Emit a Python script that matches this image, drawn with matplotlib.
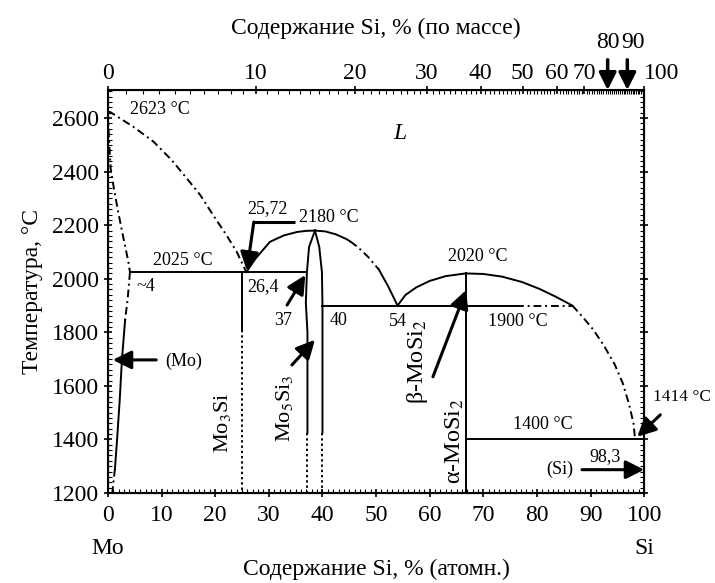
import numpy as np
import matplotlib.pyplot as plt
from matplotlib.ticker import MultipleLocator

plt.rcParams['font.family'] = ['Liberation Serif', 'DejaVu Serif']
plt.rcParams['mathtext.fontset'] = 'stix'

# --- данные (ат.% Si, °C) ---
liq_mo_x = [0, 0.4, 4.7, 8.5, 11.9, 14.7, 17.2, 19.6, 22.1, 24.0, 25.8]
liq_mo_t = [2623, 2623, 2568, 2512, 2443, 2375, 2313, 2238, 2163, 2101, 2025]

sol_mo_x = [0, 0.1, 0.25, 0.5, 1.0, 1.9, 2.9, 3.8, 4.1]
sol_mo_t = [2623, 2560, 2499, 2412, 2350, 2250, 2151, 2064, 2025]

solv_top_x = [4.1, 3.7, 3.2]
solv_top_t = [2025, 1930, 1846]
solv_mid_x = [3.2, 2.6, 2.2, 1.7, 1.3]
solv_mid_t = [1846, 1697, 1550, 1400, 1290]
solv_bot_x = [1.3, 0.8]
solv_bot_t = [1290, 1200]

liq_53_x = [25.8, 27.5, 30.2, 32.8, 35.3, 37, 38.6]
liq_53_t = [2025, 2075, 2138, 2162, 2175, 2179, 2180]

mo5_left_x = [38.6, 37.5, 37.1, 36.9, 37.2, 37.2]
mo5_left_t = [2180, 2119, 2025, 1910, 1800, 1425]
mo5_right_x = [38.6, 39.4, 39.9, 40.0, 40.0]
mo5_right_t = [2180, 2119, 2025, 1900, 1425]

liq_54a_x = [38.6, 40.5, 42.5, 44.5, 45.2]
liq_54a_t = [2180, 2177, 2166, 2148, 2139]
liq_54b_x = [45.2, 46.5, 48.5, 50.5]
liq_54b_t = [2139, 2120, 2082, 2035]
liq_54c_x = [50.5, 52.3, 54]
liq_54c_t = [2035, 1970, 1900]

liq_si2_x = [54, 55.5, 57.5, 60, 63, 66.7, 70, 73.5, 77.2, 80.5, 83.5, 86.6]
liq_si2_t = [1900, 1940, 1968, 1992, 2010, 2020, 2018, 2008, 1988, 1962, 1933, 1900]
liq_si_x = [86.6, 88.5, 90.5, 92.5, 94.5, 96, 97.2, 98, 98.3]
liq_si_t = [1900, 1858, 1810, 1750, 1680, 1610, 1530, 1460, 1400]

wt_ticks = [0, 10, 20, 30, 40, 50, 60, 70, 100]
wt_arrows = [80, 90]
at_ticks = [0, 10, 20, 30, 40, 50, 60, 70, 80, 90, 100]
t_ticks = [1200, 1400, 1600, 1800, 2000, 2200, 2400, 2600]

M_SI, M_MO = 28.086, 95.95


def wt2at(w):
    w = np.asarray(w, dtype=float)
    a = w / M_SI
    b = (100 - w) / M_MO
    return 100 * a / (a + b)


fig = plt.figure(figsize=(7.15, 5.83), dpi=100)
ax = fig.add_axes([0.151, 0.1544, 0.750, 0.6912])
ax.set_xlim(0, 100)
ax.set_ylim(1200, 2705)

k = 'black'
dash = (0, (4, 2, 1, 2))
dot = (0, (1.2, 1.5))
lw = 1.4

# пунктирные линии
for xs, ts in [(liq_mo_x, liq_mo_t), (sol_mo_x, sol_mo_t), (solv_top_x, solv_top_t),
               (solv_bot_x, solv_bot_t), (liq_54b_x, liq_54b_t), (liq_si_x, liq_si_t)]:
    ax.plot(xs, ts, color=k, lw=lw, ls=dash)

# сплошные линии
for xs, ts in [(solv_mid_x, solv_mid_t), (liq_53_x, liq_53_t), (mo5_left_x, mo5_left_t),
               (mo5_right_x, mo5_right_t), (liq_54a_x, liq_54a_t), (liq_54c_x, liq_54c_t),
               (liq_si2_x, liq_si2_t)]:
    ax.plot(xs, ts, color=k, lw=lw)

# горизонтали и вертикали
ax.plot([4.1, 37], [2025, 2025], color=k, lw=lw)
ax.plot([40, 76], [1900, 1900], color=k, lw=lw)
ax.plot([76, 86.6], [1900, 1900], color=k, lw=lw, ls=dash)
ax.plot([66.7, 100], [1400, 1400], color=k, lw=lw)
ax.plot([66.7, 66.7], [2020, 1200], color=k, lw=lw)
ax.plot([25, 25], [2025, 1810], color=k, lw=lw)
ax.plot([25, 25], [1810, 1200], color=k, lw=lw, ls=dot)
ax.plot([37.2, 37.2], [1425, 1200], color=k, lw=lw, ls=dot)
ax.plot([40, 40], [1425, 1200], color=k, lw=lw, ls=dot)

# стрелки
ap = dict(arrowstyle='-|>', color=k, lw=2.2, mutation_scale=28, shrinkA=0, shrinkB=0)
ax.plot([34.9, 27.2], [2212, 2212], color=k, lw=2.2, solid_capstyle='butt')
ax.annotate('', xy=(25.9, 2030), xytext=(27.2, 2212), arrowprops=ap)
ax.annotate('', xy=(36.8, 2014), xytext=(33.4, 1902), arrowprops=ap)
ax.annotate('', xy=(38.6, 1772), xytext=(34.3, 1678), arrowprops=ap)
ax.annotate('', xy=(66.8, 1958), xytext=(60.6, 1634), arrowprops=ap)
ax.annotate('', xy=(0.9, 1697), xytext=(9.0, 1697), arrowprops=ap)
ax.annotate('', xy=(100, 1287), xytext=(88.4, 1287), arrowprops=ap)
ax.annotate('', xy=(98.7, 1410), xytext=(103, 1492), arrowprops=ap,
            annotation_clip=False)

# подписи
fs = 13
ax.text(4.1, 2632, '2623 °C', fontsize=fs, va='center')
ax.text(54.5, 2544, 'L', fontsize=17, style='italic', ha='center', va='center')
ax.text(29.8, 2264, '25,72', fontsize=fs, ha='center', va='center')
ax.text(35.6, 2230, '2180 °C', fontsize=fs, va='center')
ax.text(14, 2070, '2025 °C', fontsize=fs, ha='center', va='center')
ax.text(5.4, 1970, '~4', fontsize=fs, va='center')
ax.text(25.9, 1970, '26,4', fontsize=fs, va='center')
ax.text(32.7, 1846, '37', fontsize=fs, ha='center', va='center')
ax.text(41.4, 1846, '40', fontsize=fs, va='center')
ax.text(54, 1839, '54', fontsize=fs, ha='center', va='center')
ax.text(69, 2082, '2020 °C', fontsize=fs, ha='center', va='center')
ax.text(76.5, 1839, '1900 °C', fontsize=fs, ha='center', va='center')
ax.text(10.6, 1693, '(Mo)', fontsize=fs, va='center')
ax.text(81, 1454, '1400 °C', fontsize=fs, ha='center', va='center')
ax.text(101.6, 1559, '1414 °C', fontsize=12.5, va='center', clip_on=False)
ax.text(92.7, 1335, '98,3', fontsize=fs, ha='center', va='center')
ax.text(84.3, 1287, '(Si)', fontsize=fs, ha='center', va='center')

ax.text(21.3, 1462, r'Mo$_3$Si', fontsize=16, rotation=90, ha='center', va='center')
ax.text(33.0, 1518, r'Mo$_5$Si$_3$', fontsize=16, rotation=90, ha='center', va='center')
ax.text(57.8, 1690, r'β-MoSi$_2$', fontsize=17.5, rotation=90, ha='center', va='center')
ax.text(64.7, 1391, r'α-MoSi$_2$', fontsize=17.5, rotation=90, ha='center', va='center')

# оси
ax.set_xticks(at_ticks)
ax.set_yticks(t_ticks)
ax.xaxis.set_minor_locator(MultipleLocator(1))
ax.yaxis.set_minor_locator(MultipleLocator(20))
ax.tick_params(labelsize=17, direction='inout', length=6, width=1.2,
               right=True, which='major')
ax.tick_params(axis='x', pad=6)
ax.tick_params(which='minor', direction='in', length=3, width=0.8, right=True)
for s in ax.spines.values():
    s.set_linewidth(1.5)

ax.text(0, -0.139, 'Mo', transform=ax.get_xaxis_transform(), fontsize=17,
        ha='center', va='center')
ax.text(100, -0.139, 'Si', transform=ax.get_xaxis_transform(), fontsize=17,
        ha='center', va='center')
ax.set_xlabel('Содержание Si, % (атомн.)', fontsize=17, labelpad=23)
ax.set_ylabel('Температура, °C', fontsize=17, labelpad=6)

ax2 = ax.twiny()
ax2.set_xlim(0, 100)
ax2.set_xticks(wt2at(wt_ticks))
ax2.set_xticklabels([str(w) for w in wt_ticks])
ax2.get_xticklabels()[-1].set_horizontalalignment('left')
ax2.set_xticks(wt2at(np.arange(1, 100)), minor=True)
ax2.tick_params(labelsize=17, direction='inout', length=6, width=1.2, pad=1)
ax2.tick_params(which='minor', direction='in', length=3, width=0.8)
ax2.set_xlabel('Содержание Si, % (по массе)', fontsize=17, labelpad=21)

for w in wt_arrows:
    xa = float(wt2at(w))
    ax2.annotate('', xy=(xa, 1.0), xytext=(xa, 1.075), xycoords=('data', 'axes fraction'),
                 arrowprops=dict(arrowstyle='-|>', color=k, lw=2.5, mutation_scale=26,
                                 shrinkA=0, shrinkB=0), annotation_clip=False)
ax2.text(float(wt2at(80)), 1.117, '80', transform=ax2.get_xaxis_transform(),
         fontsize=17, ha='center', va='center')
ax2.text(float(wt2at(90)) + 1.0, 1.117, '90', transform=ax2.get_xaxis_transform(),
         fontsize=17, ha='center', va='center')

fig.savefig('out.png', dpi=100)
